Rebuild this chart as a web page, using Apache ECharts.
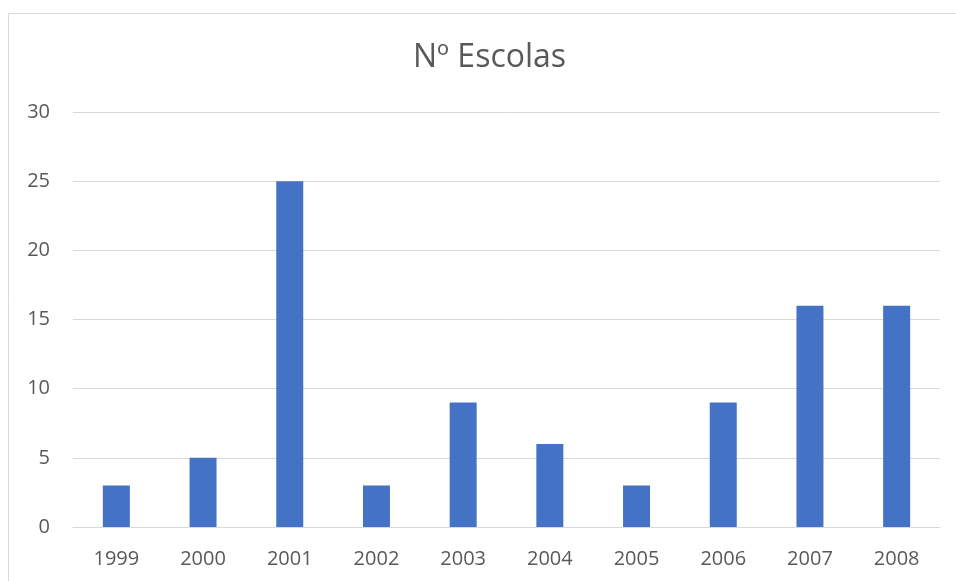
<!DOCTYPE html>
<html>
<head>
<meta charset="utf-8">
<script src="https://cdn.jsdelivr.net/npm/echarts@6/dist/echarts.min.js"></script>
<style>
html,body{margin:0;padding:0;background:#fff;}
#chart{width:956px;height:581px;}
</style>
</head>
<body>
<div id="chart"></div>
<script>
const titleText = 'Nº Escolas';
const categories = ['1999','2000','2001','2002','2003','2004','2005','2006','2007','2008'];
const values = [3, 5, 25, 3, 9, 6, 3, 9, 16, 16];
const yTicks = {min: 0, max: 30, interval: 5};

const chart = echarts.init(document.getElementById('chart'), null, {renderer: 'canvas'});
const font = 'Open Sans, Liberation Sans, sans-serif';
chart.setOption({
  animation: false,
  backgroundColor: '#fff',
  graphic: [{
    type: 'rect', silent: true,
    shape: {x: 8.5, y: 13.5, width: 1200, height: 1200},
    style: {fill: 'none', stroke: '#d9d9d9', lineWidth: 1}
  }],
  title: {
    text: titleText, left: 408, top: 37,
    textStyle: {fontFamily: font, fontSize: 32, fontWeight: 'normal', color: '#595959'}
  },
  grid: {left: 73, right: 16, top: 112, bottom: 54, containLabel: false},
  xAxis: {
    type: 'category', data: categories,
    axisLine: {show: true, lineStyle: {color: '#d9d9d9', width: 1}},
    axisTick: {show: false},
    axisLabel: {fontFamily: font, fontSize: 20, color: '#595959', margin: 22}
  },
  yAxis: {
    type: 'value', min: yTicks.min, max: yTicks.max, interval: yTicks.interval,
    axisLine: {show: false}, axisTick: {show: false},
    splitLine: {lineStyle: {color: '#d9d9d9', width: 1}},
    axisLabel: {fontFamily: font, fontSize: 20, color: '#595959', margin: 23}
  },
  series: [{
    type: 'bar', data: values, barWidth: 27,
    itemStyle: {color: '#4472c4'}
  }]
});
</script>
</body>
</html>
